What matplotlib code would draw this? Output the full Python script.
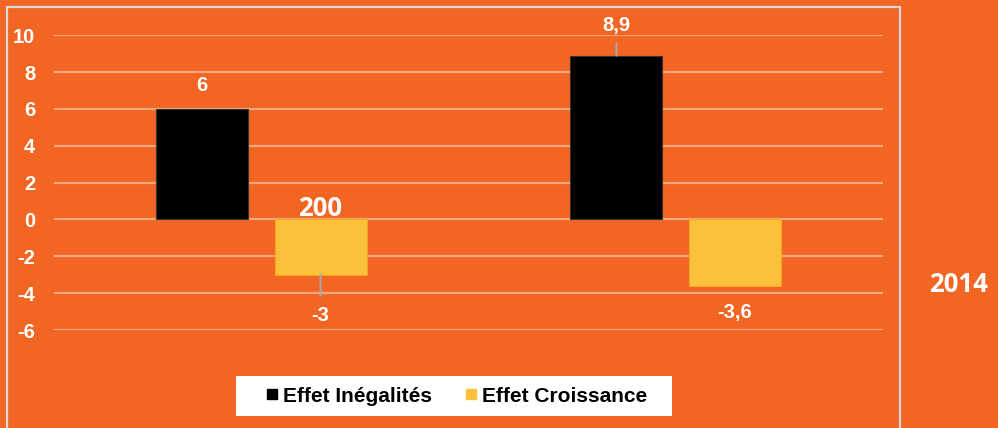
import matplotlib
matplotlib.use("Agg")
import matplotlib.pyplot as plt
from matplotlib.patches import Rectangle
from matplotlib.lines import Line2D
import numpy as np

# Data
categories = ["2009", "2014"]
series_names = ["Effet Inégalités", "Effet Croissance"]
effet_inegalites = [6, 8.9]
effet_croissance = [-3, -3.6]
label_ineg = ["6", "8,9"]
label_crois = ["-3", "-3,6"]
yticks = [-6, -4, -2, 0, 2, 4, 6, 8, 10]

ORANGE = "#F26522"
YELLOW = "#FCC13A"
WHITE = "white"

W, H = 998, 428
fig = plt.figure(figsize=(W / 100, H / 100), dpi=100, facecolor=ORANGE)

def fx(px):
    return px / W

def fy(py):
    return 1 - py / H

ax = fig.add_axes([fx(54), fy(330), fx(883) - fx(54), fy(35.3) - fy(330)])
ax.set_facecolor(ORANGE)
ax.set_xlim(-0.5, 1.5)
ax.set_ylim(-6, 10)
for s in ax.spines.values():
    s.set_visible(False)
ax.set_yticks(yticks)
ax.set_yticklabels([str(t) for t in yticks], color=WHITE, fontsize=14.5,
                   fontweight="bold", family="Liberation Sans")
ax.tick_params(axis="y", length=0, pad=13.5)
ax.set_xticks([])
for t in yticks:
    ax.axhline(t, color="#F8A77E", lw=1.6, zorder=0)

x = np.arange(len(categories))
w = 0.222
off = 0.143
ax.bar(x - off, effet_inegalites, width=w, color="black", edgecolor="#333333",
       lw=0.8, zorder=2)
ax.bar(x + off, effet_croissance, width=w, color=YELLOW, edgecolor="#F5A623",
       lw=0.8, zorder=2)

lbl_kw = dict(color=WHITE, fontsize=14.5, fontweight="bold",
              family="Liberation Sans", ha="center", va="center",
              textcoords="offset points", annotation_clip=False)
gray_arrow = dict(arrowstyle="-", color="#A6A6A6", lw=1.5)

# Inégalités labels
ax.annotate(label_ineg[0], xy=(x[0] - off, effet_inegalites[0]),
            xytext=(0, 16.6), **lbl_kw)
ax.annotate(label_ineg[1], xy=(x[1] - off, effet_inegalites[1]),
            xytext=(0, 22), arrowprops=dict(**gray_arrow, shrinkA=4, shrinkB=0),
            **lbl_kw)
# Croissance labels
ax.annotate(label_crois[0], xy=(x[0] + off, effet_croissance[0]),
            xytext=(0, -29), arrowprops=dict(**gray_arrow, shrinkA=5, shrinkB=0),
            **lbl_kw)
ax.annotate(label_crois[1], xy=(x[1] + off, effet_croissance[1]),
            xytext=(0, -19), **lbl_kw)

# Category labels (partially shown in original)
fig.text(fx(320), fy(209), categories[0][:3], color=WHITE, fontsize=18.5,
         fontweight="bold", family="Open Sans", ha="center", va="center",
         zorder=5)
fig.text(fx(958), fy(284), categories[1], color=WHITE, fontsize=18.5,
         fontweight="bold", family="Open Sans", ha="center", va="center")

# Frame
fig.patches.append(Rectangle((fx(7), fy(440)), fx(900) - fx(7), fy(7) - fy(440),
                             transform=fig.transFigure, fill=False,
                             edgecolor="#D9D9D9", lw=1.6, clip_on=False))

# Legend box
fig.patches.append(Rectangle((fx(236), fy(416)), fx(672) - fx(236), fy(376) - fy(416),
                             transform=fig.transFigure, facecolor="white",
                             edgecolor="none", zorder=3))

handles = [Line2D([], [], marker="s", ls="none", color="black", markersize=7),
           Line2D([], [], marker="s", ls="none", color=YELLOW, markersize=7)]
leg = fig.legend(handles, series_names, loc="center",
                 bbox_to_anchor=(fx(457), fy(396)), ncol=2, frameon=False,
                 handlelength=0.5, handletextpad=0.3,
                 columnspacing=1.6, borderpad=0.2,
                 prop=dict(family="Liberation Sans", weight="bold", size=15))
leg.set_zorder(4)

fig.savefig("out.png", dpi=100, facecolor=ORANGE)
